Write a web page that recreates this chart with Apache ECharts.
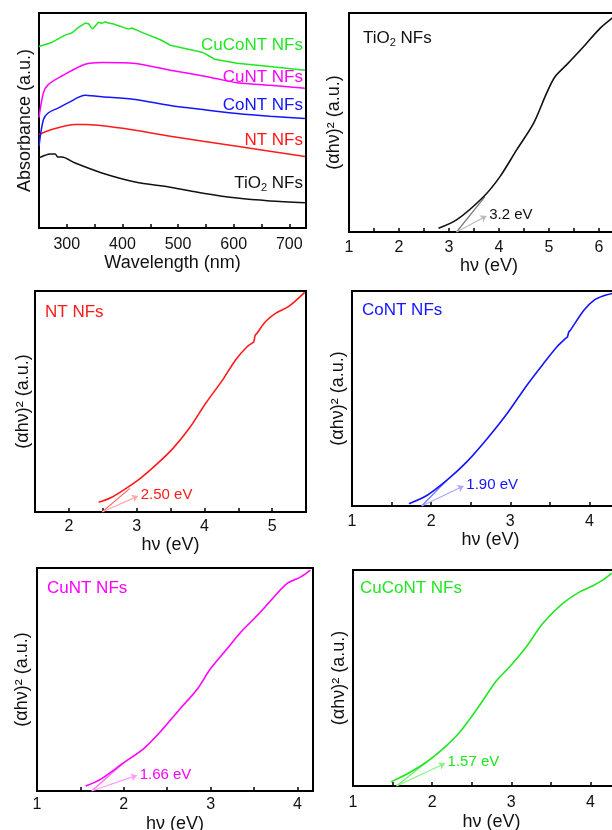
<!DOCTYPE html>
<html lang="en">
<head>
    <meta charset="UTF-8">
    <title>UV-vis and Tauc plots</title>
    <script src="https://cdn.jsdelivr.net/npm/echarts@6/dist/echarts.min.js"></script>
    <style>
        html, body { margin: 0; padding: 0; background: #fff; }
        #main { width: 612px; height: 830px; }
    </style>
</head>
<body>
    <div id="main"></div>
    <script>
        // 吸收光谱 [波长 nm, 吸光度 a.u.]
        var absTiO2 = [[250,32.6],[261,33.8],[270,34.4],[279,34.4],[284,33],[291,33],[315,30.2],[363,25.6],[423,21.4],[486,19.0],[545,16.2],[606,13.9],[665,12.6],[728,11.8]];
        var absNT = [[250,43.5],[273,45.8],[315,48.1],[333,48.1],[393,46.6],[486,42.7],[545,40.3],[606,38],[665,35.7],[728,33.3]];
        var absCoNT = [[250,38],[258,50.5],[267,53.6],[285,55.9],[303,58.3],[333,61.7],[345,61.5],[363,61.1],[423,59.8],[486,57],[545,55.1],[606,53.3],[665,52],[728,50.9]];
        var absCuNT = [[250,51.3],[258,62.9],[267,66.8],[291,70.7],[333,76.2],[363,77],[423,76.5],[486,73.4],[545,70.7],[568,69.5],[606,67.6],[665,66.4],[728,65]];
        var absCuCoNT = [[250,84.4],[273,86.3],[297,89.7],[309,90.7],[321,93.3],[333,95.3],[339,95],[346,92.5],[351,94],[357,95.7],[363,95.2],[369,95.9],[375,95.3],[384,94.9],[393,94.1],[411,92.5],[417,93],[435,91],[465,87.9],[471,87.2],[486,85],[545,81.6],[566,78.5],[606,76.6],[665,75.1],[728,73.4]];

        // Tauc 曲线 [hv eV, (ahv)^2 a.u.]
        var taucTiO2 = [[2.79,1.7],[3.15,5.5],[3.69,16.1],[4.02,25.3],[4.35,37.4],[4.69,49.6],[4.95,63.3],[5.12,70.9],[5.35,76.3],[5.69,84.6],[6.02,93],[6.27,97.8]];
        var taucNT = [[2.44,4.4],[2.61,6.3],[2.85,10.8],[3.05,15.1],[3.29,21.4],[3.54,28.9],[3.78,38],[4.02,49.2],[4.27,59.8],[4.46,68.8],[4.63,74.8],[4.71,76.5],[4.73,77],[4.75,80],[4.78,81],[4.90,86.1],[5.05,89.9],[5.24,92.9],[5.48,99.4]];
        var taucCoNT = [[1.72,1.1],[1.95,5],[2.20,12],[2.45,20.5],[2.71,31.4],[2.96,43],[3.21,56.2],[3.42,66.3],[3.59,74.1],[3.70,78],[3.72,78.5],[3.74,81],[3.76,81.8],[3.93,91.1],[4.06,95.8],[4.18,97.8],[4.29,98.9]];
        var taucCuNT = [[1.56,2.2],[1.73,5.2],[2.0,12.7],[2.23,19],[2.42,26.5],[2.65,36.9],[2.85,45.9],[3.0,54.9],[3.19,63.8],[3.35,71.3],[3.54,78.8],[3.73,87],[3.88,93],[4.04,96],[4.15,99]];
        var taucCuCoNT = [[1.48,1.9],[1.67,5.3],[1.93,11.1],[2.14,17.3],[2.35,25],[2.60,37.4],[2.81,48.6],[2.98,55.2],[3.19,64.5],[3.40,75.3],[3.65,84.5],[3.87,90],[4.03,92.7],[4.16,95.4],[4.27,98.5]];

        // 切线和箭头 (起点在 x 轴上)
        var tangentTiO2 = [[3.15,0],[3.72,16.1]];
        var tangentNT = [[2.49,0],[2.90,10.7]];
        var tangentCoNT = [[1.88,0],[2.20,12]];
        var tangentCuNT = [[1.63,0],[2.0,12.7]];
        var tangentCuCoNT = [[1.55,0],[1.93,11.1]];
        var arrowTiO2 = [[3.15,0],[3.75,7.3]];
        var arrowNT = [[2.49,0],[3.02,7.2]];
        var arrowCoNT = [[1.88,0],[2.41,9.3]];
        var arrowCuNT = [[1.63,0],[2.15,7]];
        var arrowCuCoNT = [[1.55,0],[2.16,10.4]];
        var gapLabels = ['3.2 eV', '2.50 eV', '1.90 eV', '1.66 eV', '1.57 eV'];

        var sampleNames = ['TiO{s|2} NFs', 'NT NFs', 'CoNT NFs', 'CuNT NFs', 'CuCoNT NFs'];
        var colors = ['#111111', '#ff1a1a', '#1414ff', '#ff00ff', '#22e622'];
        var tangentColors = ['#777777', '#ff6a6a', '#7070ff', '#ff66ff', '#6af06a'];
        var arrowColors = ['#bbbbbb', '#ffaaaa', '#a8a8ff', '#ff99ff', '#88f088'];

        var font = "'Liberation Sans', Arial, sans-serif";

        // 六个面板的布局
        var panels = [
            {left: 39, top: 13, width: 267, height: 215, min: 250, max: 730, step: 50, major: 100, yName: 'Absorbance (a.u.)', xName: 'Wavelength (nm)', xGap: 25, labMargin: 9, yGap: 5},
            {left: 349, top: 13, width: 280, height: 219, min: 1, max: 6.6, step: 0.5, major: 1, xGap: 24, labMargin: 8, yGap: 6},
            {left: 35, top: 291, width: 271, height: 221, min: 1.5, max: 5.5, step: 0.5, major: 1, xGap: 21, labMargin: 7, yGap: 3},
            {left: 352, top: 291, width: 277, height: 215, min: 1, max: 4.5, step: 0.5, major: 1, xGap: 25, labMargin: 8, yGap: 5},
            {left: 37, top: 568, width: 276, height: 223, min: 1, max: 4.18, step: 0.5, major: 1, xGap: 24, labMargin: 6, yGap: 6},
            {left: 353, top: 570, width: 277, height: 216, min: 1, max: 4.5, step: 0.5, major: 1, xGap: 27, labMargin: 9, yGap: 5}
        ];

        var grids = [], xAxes = [], yAxes = [];
        panels.forEach(function (p, i) {
            grids.push({
                left: p.left, top: p.top, width: p.width, height: p.height,
                outerBoundsMode: 'none', containLabel: false,
                show: true, borderColor: '#000', borderWidth: 2
            });
            xAxes.push({
                type: 'value', gridIndex: i, min: p.min, max: p.max, interval: p.step,
                name: p.xName || 'h\u03bd (eV)', nameLocation: 'middle', nameGap: p.xGap,
                nameTextStyle: {fontSize: 18, fontFamily: font, color: '#111'},
                axisLine: {show: false},
                axisTick: {show: true, inside: true, length: 4, lineStyle: {color: '#000', width: 1.5}},
                axisLabel: {
                    margin: p.labMargin, fontSize: 16, fontFamily: font, color: '#111',
                    formatter: function (v) {
                        return Math.abs(v / p.major - Math.round(v / p.major)) < 1e-6 ? String(v) : '';
                    }
                },
                splitLine: {show: false}
            });
            yAxes.push({
                type: 'value', gridIndex: i, min: 0, max: 100,
                name: p.yName || '(\u03b1h\u03bd)\u00b2 (a.u.)', nameLocation: 'middle', nameGap: p.yGap,
                nameTextStyle: {fontSize: 18, fontFamily: font, color: '#111'},
                axisLine: {show: false}, axisTick: {show: false},
                axisLabel: {show: false}, splitLine: {show: false}
            });
        });

        var spectra = [absTiO2, absNT, absCoNT, absCuNT, absCuCoNT];
        var taucs = [taucTiO2, taucNT, taucCoNT, taucCuNT, taucCuCoNT];
        var tangents = [tangentTiO2, tangentNT, tangentCoNT, tangentCuNT, tangentCuCoNT];
        var arrows = [arrowTiO2, arrowNT, arrowCoNT, arrowCuNT, arrowCuCoNT];

        var series = [];
        spectra.forEach(function (d, i) {
            series.push({
                type: 'line', xAxisIndex: 0, yAxisIndex: 0, data: d,
                showSymbol: false, smooth: i === 4 ? false : 0.3,
                lineStyle: {color: colors[i], width: 1.5}, silent: true
            });
        });
        taucs.forEach(function (d, i) {
            var k = i + 1;
            series.push({
                type: 'line', xAxisIndex: k, yAxisIndex: k, data: tangents[i],
                showSymbol: false, lineStyle: {color: tangentColors[i], width: 1.2}, silent: true
            });
            series.push({
                type: 'line', xAxisIndex: k, yAxisIndex: k, data: d,
                showSymbol: false, smooth: 0.3,
                lineStyle: {color: colors[i], width: 1.6}, silent: true,
                markLine: {
                    silent: true, animation: false,
                    symbol: ['none', 'arrow'], symbolSize: 6,
                    lineStyle: {color: arrowColors[i], width: 1.2, type: 'solid'},
                    label: {
                        show: true, position: 'end', distance: 3,
                        fontSize: 15, fontFamily: font, color: colors[i],
                        formatter: gapLabels[i]
                    },
                    data: [[{coord: arrows[i][0]}, {coord: arrows[i][1]}]]
                }
            });
        });

        // 曲线名称
        var rich = {s: {fontSize: 11, fontFamily: font, verticalAlign: 'bottom', padding: [10, 0, 0, 0]}};
        var spectraLabelY = [183, 140, 105, 77, 45];
        var taucLabelPos = [[363, 38], [45, 312], [362, 310], [47, 588], [360, 588]];
        var graphics = [];
        sampleNames.forEach(function (name, i) {
            var r = {s: Object.assign({}, rich.s, {fill: colors[i]})};
            graphics.push({
                type: 'text', x: 303, y: spectraLabelY[i], silent: true,
                style: {text: name, rich: r, font: '17px ' + font, fill: colors[i], align: 'right', verticalAlign: 'middle'}
            });
            graphics.push({
                type: 'text', x: taucLabelPos[i][0], y: taucLabelPos[i][1], silent: true,
                style: {text: name, rich: r, font: '17px ' + font, fill: colors[i], align: 'left', verticalAlign: 'middle'}
            });
        });

        var chart = echarts.init(document.getElementById('main'));
        chart.setOption({
            animation: false,
            backgroundColor: '#fff',
            grid: grids,
            xAxis: xAxes,
            yAxis: yAxes,
            series: series,
            graphic: graphics
        });
    </script>
</body>
</html>
